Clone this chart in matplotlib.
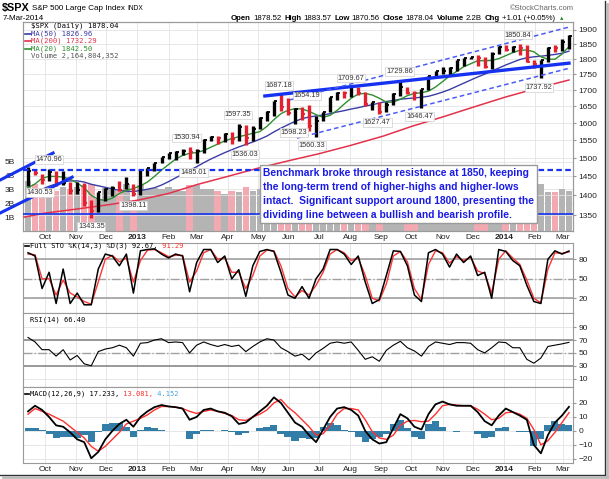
import numpy as np
import pandas as pd
import matplotlib
matplotlib.use("Agg")
import matplotlib.pyplot as plt
from matplotlib.ticker import NullLocator
from matplotlib.lines import Line2D

plt.rcParams['font.family'] = ['Liberation Sans', 'DejaVu Sans']

# ---------------------------------------------------------
# data (weekly samples, Friday dates)
# ---------------------------------------------------------
WEEKS = pd.date_range('2012-09-14', '2014-03-07', freq='W-FRI')

CLOSE = [1465.77, 1460.15, 1440.67, 1460.93, 1428.59, 1433.19, 1411.94, 1414.20, 1379.85, 1359.88,
         1409.15, 1416.18, 1418.07, 1413.58, 1430.15, 1402.43, 1466.47, 1472.05, 1485.98, 1502.96,
         1513.17, 1517.93, 1519.79, 1515.60, 1518.20, 1551.18, 1560.70, 1556.89, 1569.19, 1553.28,
         1588.85, 1555.25, 1582.24, 1614.42, 1633.70, 1667.47, 1649.60, 1630.74, 1643.38, 1626.73,
         1592.43, 1606.28, 1631.89, 1680.19, 1692.09, 1691.65, 1709.67, 1691.42, 1655.83, 1663.50,
         1632.97, 1655.17, 1687.99, 1709.91, 1691.75, 1690.50, 1703.20, 1744.50, 1759.77, 1761.64,
         1770.61, 1798.18, 1804.76, 1805.81, 1805.09, 1775.32, 1818.32, 1841.40, 1831.37, 1842.37,
         1838.70, 1790.29, 1782.59, 1797.02, 1838.63, 1836.25, 1859.45, 1878.04]
HIGH = [1474.5, 1467.1, 1457.1, 1471.0, 1464.0, 1464.0, 1434.0, 1434.3, 1433.4, 1388.8,
        1409.2, 1420.0, 1423.7, 1438.6, 1448.0, 1430.2, 1467.9, 1472.3, 1486.0, 1503.3,
        1514.4, 1518.3, 1524.7, 1530.9, 1525.8, 1552.5, 1563.3, 1563.6, 1570.3, 1573.7,
        1597.4, 1593.0, 1592.6, 1618.5, 1635.0, 1667.5, 1687.2, 1674.2, 1646.5, 1648.7,
        1654.2, 1620.1, 1632.1, 1680.2, 1693.1, 1698.8, 1709.7, 1709.2, 1693.7, 1664.6,
        1663.9, 1664.3, 1690.0, 1729.9, 1711.0, 1696.5, 1704.0, 1745.3, 1759.8, 1775.2,
        1774.5, 1798.2, 1804.8, 1808.4, 1813.6, 1808.4, 1823.8, 1844.9, 1849.4, 1843.2,
        1850.8, 1849.3, 1798.8, 1798.0, 1841.7, 1847.5, 1867.9, 1883.6]
LOW = [1425.5, 1454.0, 1430.5, 1439.0, 1425.5, 1428.0, 1403.3, 1403.9, 1373.0, 1343.4,
       1358.0, 1385.0, 1398.0, 1411.9, 1416.0, 1398.1, 1401.9, 1451.6, 1463.8, 1485.0,
       1496.3, 1495.0, 1508.7, 1497.3, 1485.0, 1514.9, 1547.4, 1538.6, 1546.2, 1539.5,
       1548.0, 1536.0, 1548.0, 1581.3, 1605.4, 1622.4, 1635.5, 1622.7, 1598.2, 1608.1,
       1577.7, 1560.3, 1604.6, 1631.9, 1670.9, 1676.0, 1678.9, 1684.9, 1652.6, 1639.4,
       1627.5, 1633.4, 1655.2, 1683.2, 1687.1, 1670.4, 1646.5, 1700.3, 1739.5, 1752.7,
       1746.2, 1760.6, 1779.0, 1800.0, 1779.1, 1772.3, 1768.0, 1818.2, 1827.7, 1823.7,
       1815.5, 1790.3, 1770.5, 1737.9, 1791.8, 1824.6, 1825.9, 1834.4]
VOLUME_B = [3.6, 3.4, 2.9, 3.0, 2.9, 3.2, 3.0, 3.2, 3.3, 3.4,
            2.3, 3.1, 3.0, 2.9, 3.4, 2.2, 3.3, 3.0, 3.1, 3.0,
            3.2, 3.0, 2.9, 3.3, 3.3, 3.0, 3.0, 2.9, 2.7, 2.9,
            2.8, 3.2, 2.9, 3.0, 2.9, 2.9, 3.2, 3.1, 3.1, 3.0,
            3.4, 3.2, 2.4, 2.7, 2.7, 2.6, 2.7, 2.5, 2.6, 2.3,
            2.4, 2.7, 2.7, 3.0, 2.7, 2.8, 3.0, 2.9, 2.8, 2.9,
            2.9, 2.6, 2.7, 2.1, 2.7, 2.7, 3.0, 1.9, 2.6, 2.8,
            2.9, 3.1, 3.3, 3.4, 2.8, 2.8, 3.0, 2.9]
MA20 = [1420, 1430, 1445, 1450, 1450, 1448, 1443, 1432, 1420, 1400,
        1390, 1387, 1393, 1405, 1413, 1418, 1425, 1435, 1450, 1467,
        1482, 1497, 1507, 1513, 1515, 1521, 1530, 1539, 1548, 1555,
        1560, 1565, 1570, 1575, 1590, 1610, 1628, 1638, 1643, 1642,
        1635, 1625, 1617, 1623, 1638, 1657, 1675, 1688, 1690, 1685,
        1675, 1663, 1663, 1672, 1683, 1690, 1692, 1697, 1710, 1727,
        1745, 1760, 1775, 1785, 1795, 1795, 1796, 1802, 1812, 1822,
        1830, 1831, 1825, 1808, 1800, 1800, 1817, 1842.5]
MA50 = [1405, 1410, 1416, 1424, 1430, 1435, 1438, 1438, 1435, 1429,
        1425, 1421, 1417, 1413, 1411, 1410, 1413, 1416, 1420, 1427,
        1436, 1446, 1456, 1466, 1476, 1487, 1497, 1506, 1515, 1523,
        1531, 1538, 1545, 1553, 1562, 1574, 1585, 1595, 1605, 1613,
        1618, 1621, 1624, 1628, 1633, 1637, 1642, 1646, 1651, 1655,
        1660, 1665, 1668, 1672, 1674, 1676, 1678, 1681, 1687, 1694,
        1702, 1712, 1722, 1732, 1742, 1751, 1761, 1771, 1781, 1790,
        1799, 1805, 1808, 1810, 1813, 1816, 1820, 1826.96]
MA200_DATES = pd.to_datetime(['2012-09-10', '2012-10-01', '2012-11-01', '2012-12-03', '2013-01-02',
                              '2013-02-01', '2013-03-01', '2013-04-01', '2013-05-01', '2013-06-03',
                              '2013-07-01', '2013-08-01', '2013-09-03', '2013-10-01', '2013-11-01',
                              '2013-12-02', '2014-01-02', '2014-02-03', '2014-03-07'])
MA200 = [1345, 1355, 1365, 1376, 1388, 1405, 1428, 1450, 1472, 1494,
         1512, 1535, 1562, 1590, 1618, 1648, 1678, 1706, 1732.29]

STO_K = [90, 85, 35, 60, 12, 65, 12, 28, 10, 10,
         65, 88, 85, 70, 88, 28, 93, 95, 96, 88,
         82, 88, 85, 30, 75, 95, 95, 75, 85, 50,
         64, 23, 70, 92, 95, 92, 60, 25, 20, 38,
         20, 50, 65, 95, 95, 88, 72, 85, 45, 12,
         18, 55, 93, 92, 70, 25, 15, 90, 95, 88,
         68, 88, 75, 85, 55, 60, 20, 95, 92, 78,
         70, 40, 15, 12, 80, 93, 88, 92.67]
STO_D = [88, 87, 50, 50, 25, 48, 28, 22, 15, 11,
         45, 80, 86, 76, 82, 45, 78, 94, 95, 90,
         84, 86, 86, 45, 62, 90, 95, 80, 82, 60,
         60, 35, 55, 85, 94, 93, 70, 35, 22, 32,
         25, 40, 60, 88, 95, 90, 78, 82, 55, 20,
         16, 42, 85, 92, 76, 35, 18, 72, 93, 90,
         74, 84, 78, 83, 62, 58, 28, 80, 93, 82,
         72, 48, 20, 13, 65, 90, 89, 91.29]
RSI = [74, 67, 55, 55, 45, 55, 39, 46, 33, 30,
       52, 56, 58, 62, 58, 45, 65, 66, 70, 72,
       66, 67, 66, 50, 62, 67, 63, 60, 63, 60,
       62, 52, 60, 67, 72, 70, 58, 52, 45, 48,
       39, 50, 57, 65, 67, 65, 67, 54, 40, 44,
       37, 54, 62, 68, 58, 53, 45, 60, 67, 65,
       63, 66, 66, 65, 55, 50, 58, 67, 66, 58,
       58, 40, 34, 42, 60, 62, 64, 66.4]
MACD = [14, 18, 15, 10, 4, 3, -1, -6, -8, -19.5,
        -15, -6, 0, 5, 8, 3, 10, 14, 17, 18.5,
        17.5, 17, 16, 8, 10, 15, 16, 14, 13, 10.5,
        5, 6, 10, 14, 18, 24, 20, 13, 6, 3,
        -3, -8, 1, 10, 16, 17, 15, 11, 0, -6,
        -9, -8, 2, 12, 9, 3, 1, 12, 19, 21,
        19, 18, 18, 18, 13.5, 7, 4, 11, 16, 13.5,
        11, 8, -10, -16, -3, 6, 11, 17.233]
SIGNAL = [12, 16, 14, 12, 9.5, 7, 3, -1, -5, -11,
          -14.5, -11, -6, -1, 5, 7, 9, 11.5, 15, 17.5,
          17.5, 17, 16, 14, 12.5, 14, 15, 14, 12.5, 11,
          8, 7.5, 10, 12, 15, 20, 22.5, 17, 13, 8,
          3, -3, -2, 4, 12, 16, 16, 15, 8, -0.5,
          -5, -6, -3, 4, 7, 7.5, 6.6, 7, 12, 18,
          19, 18.5, 18, 18, 15.5, 12, 8, 9, 13, 13.5,
          12, 9, 1, -10, -7, -1, 6, 13.081]
HIST = [2, 2, 1, -2, -5, -4, -4, -5, -3, -8,
        -1, 5, 6, 6, 3, -4, 1, 2.5, 2, 1,
        0, 0, 0, -6, -2.5, 1, 1, 0, 0.5, -0.5,
        -3, -1.5, 0, 2, 3, 4, -2.5, -4, -7, -5,
        -6, -5, 3, 6, 4, 1, -1, -4, -8, -5.5,
        -4, -2, 5, 8, 2, -4.5, -5.6, 5, 7, 3,
        0, -0.5, 0, 0, -2, -5, -4, 2, 3, 0,
        -1, -1, -11, -6, 4, 7, 5, 4.152]

# swing high / low labels
PEAK_DATES = ['2012-10-05', '2012-09-26', '2012-11-16', '2012-12-28', '2013-02-19', '2013-02-26',
              '2013-04-11', '2013-04-18', '2013-05-22', '2013-06-06', '2013-06-19', '2013-06-24',
              '2013-08-02', '2013-08-28', '2013-09-19', '2013-10-09', '2014-01-15', '2014-02-05']
PEAK_VALUES = [1470.96, 1430.53, 1343.35, 1398.11, 1530.94, 1485.01,
               1597.35, 1536.03, 1687.18, 1598.23, 1654.19, 1560.33,
               1709.67, 1627.47, 1729.86, 1646.47, 1850.84, 1737.92]
PEAK_SIDE = ['up', 'down', 'down', 'down', 'up', 'down',
             'up', 'down', 'up', 'down', 'up', 'down',
             'up', 'down', 'up', 'down', 'up', 'down']

# hand-drawn trend lines (start, end)
CHANNEL_HI_2012 = (['2012-08-17', '2012-10-09'], [1440, 1514])
CHANNEL_LO_2012 = (['2012-08-17', '2012-10-28'], [1355, 1448])
RESIST_LINE = (['2013-05-08', '2014-03-07'], [1682, 1787])
CHANNEL_UP = (['2013-06-02', '2014-03-08'], [1670, 1911])
CHANNEL_DN = (['2013-06-09', '2014-03-08'], [1556, 1771])
BREAKOUT_LEVEL = 1467
FLOOR_LEVEL = 1352

NOTE = ("Benchmark broke through resistance at 1850, keeping\n"
        "the long-term trend of higher-highs and higher-lows\n"
        "intact.  Significant support around 1800, presenting the\n"
        "dividing line between a bullish and bearish profile.")

# ---------------------------------------------------------
# layout (pixel boxes of the 609x479 picture)
# ---------------------------------------------------------
W, H = 609, 479
fig = plt.figure(figsize=(W / 100, H / 100), dpi=100)
renderer = fig.canvas.get_renderer()


def box(l, t, r, b):
    return [l / W, 1 - b / H, (r - l) / W, (b - t) / H]


def fx(px):
    return px / W


def fy(py):
    return 1 - py / H


def chain(x, y, pieces, size, gap=0, **kw):
    # writes text pieces one after the other, left to right
    for s, color, weight in pieces:
        t = fig.text(fx(x), fy(y), s, fontsize=size, color=color, fontweight=weight,
                     va='center', **kw)
        x = t.get_window_extent(renderer).x1 + gap
    return x


ax_v = fig.add_axes(box(23, 22, 573, 231))
ax_p = fig.add_axes(box(23, 22, 573, 231))
ax_s = fig.add_axes(box(23, 243, 573, 313))
ax_r = fig.add_axes(box(23, 313, 573, 387))
ax_m = fig.add_axes(box(23, 387, 573, 463))

X0, X1 = pd.Timestamp('2012-09-09'), pd.Timestamp('2014-03-11')
MONTHS = pd.date_range('2012-10-01', '2014-03-01', freq='MS')
MLABELS = [d.strftime('%Y') if d.month == 1 else d.strftime('%b') for d in MONTHS]
GRID = '#e3e3e3'
TXT = '#222222'

for ax in (ax_v, ax_p, ax_s, ax_r, ax_m):
    ax.set_xlim(X0, X1)
    ax.set_xticks(MONTHS)
    ax.tick_params(axis='x', length=0, labelsize=6, colors=TXT, pad=2)
    ax.tick_params(axis='y', length=2, labelsize=6, colors=TXT, pad=2, color='#999999')
    for s in ax.spines.values():
        s.set_color('#9a9a9a')
        s.set_linewidth(0.8)

for ax in (ax_s, ax_r, ax_v):
    ax.set_xticklabels([])
for ax in (ax_p, ax_m):
    ax.set_xticklabels(MLABELS)
    for lab, d in zip(ax.get_xticklabels(), MONTHS):
        if d.month == 1:
            lab.set_fontweight('bold')

up = np.r_[True, np.diff(CLOSE) >= 0]

# --- volume (behind price) ---
ax_v.bar(WEEKS, VOLUME_B, width=6.5, color=np.where(up, '#b4b4b4', '#f2a9b1'), zorder=1)
ax_v.set_ylim(0, 15.1)
ax_v.set_yticks([1, 2, 3, 4, 5])
ax_v.set_yticklabels(['1B', '2B', '3B', '4B', '5B'])
ax_v.tick_params(axis='y', length=0, pad=6)
ax_v.grid(True, color=GRID, lw=0.6)
ax_v.set_axisbelow(True)

# --- price panel ---
ax_p.patch.set_alpha(0)
ax_p.set_yscale('log')
ax_p.set_ylim(1311, 1928)
pticks = list(range(1350, 1901, 50))
ax_p.set_yticks(pticks)
ax_p.set_yticklabels([str(t) for t in pticks])
ax_p.yaxis.set_minor_locator(NullLocator())
ax_p.yaxis.tick_right()
ax_p.grid(True, axis='y', color=GRID, lw=0.6, zorder=0)

ax_p.plot(MA200_DATES, MA200, color='#e3324c', lw=1.1, zorder=3)
ax_p.plot(WEEKS, MA50, color='#3c3ca8', lw=1.0, zorder=3)
ax_p.plot(WEEKS, MA20, color='#2f8f2f', lw=1.0, zorder=3)

bar_col = np.where(up, 'black', '#e4202e')
ax_p.vlines(WEEKS, LOW, HIGH, colors=bar_col, lw=2.4, zorder=4)
ax_p.hlines(CLOSE, WEEKS, WEEKS + pd.Timedelta(days=3), colors=bar_col, lw=1.3, zorder=4)

blue = '#1432f0'
for (d, v), lw in ((CHANNEL_HI_2012, 2.2), (CHANNEL_LO_2012, 2.2), (RESIST_LINE, 2.4)):
    ax_p.plot(pd.to_datetime(d), v, color=blue, lw=lw, zorder=5, clip_on=False)
for d, v in (CHANNEL_UP, CHANNEL_DN):
    ax_p.plot(pd.to_datetime(d), v, color='#4a5cf5', lw=1.1, ls=(0, (3, 2)), zorder=5)
ax_p.axhline(BREAKOUT_LEVEL, color=blue, lw=1.6, ls=(0, (2.5, 1.5)), zorder=5)
ax_p.axhline(FLOOR_LEVEL, color=blue, lw=1.2, zorder=5)

for d, v, side in zip(PEAK_DATES, PEAK_VALUES, PEAK_SIDE):
    off = 6.5 if side == 'up' else -6.5
    ax_p.annotate(f'{v:.2f}', (pd.Timestamp(d), v), xytext=(0, off), textcoords='offset points',
                  ha='center', va='center', fontsize=5.3, color='#333333', zorder=7,
                  bbox=dict(boxstyle='square,pad=0.12', fc='white', ec='#cfcfcf', lw=0.5))

# --- stochastics ---
ax_s.set_ylim(-2.6, 105)
ax_s.set_yticks([20, 50, 80])
ax_s.yaxis.tick_right()
ax_s.grid(True, color=GRID, lw=0.6)
ax_s.set_axisbelow(True)
for lvl in (20, 80):
    ax_s.axhline(lvl, color='#9a9a9a', lw=1.1)
ax_s.axhline(50, color='#a0a0a0', lw=1.0, ls='-.')
ax_s.plot(WEEKS, STO_D, color='#ff3535', lw=1.0)
ax_s.plot(WEEKS, STO_K, color='black', lw=1.1)

# --- RSI ---
ax_r.set_ylim(-3, 112)
ax_r.set_yticks([10, 30, 50, 70, 90])
ax_r.yaxis.tick_right()
ax_r.grid(True, color=GRID, lw=0.6)
ax_r.set_axisbelow(True)
for lvl in (30, 70):
    ax_r.axhline(lvl, color='#8a8a8a', lw=1.2)
ax_r.axhline(50, color='#a0a0a0', lw=1.0, ls='-.')
ax_r.plot(WEEKS, RSI, color='black', lw=0.8)

# --- MACD ---
ax_m.set_ylim(-22.9, 31.4)
ax_m.set_yticks([-20, -10, 0, 10, 20])
ax_m.yaxis.tick_right()
ax_m.grid(True, color=GRID, lw=0.6)
ax_m.set_axisbelow(True)
ax_m.bar(WEEKS, HIST, width=7, color='#337ea8', zorder=2)
ax_m.plot(WEEKS, SIGNAL, color='#ff3030', lw=1.0, zorder=3)
ax_m.plot(WEEKS, MACD, color='black', lw=1.3, zorder=4)

# ---------------------------------------------------------
# texts
# ---------------------------------------------------------
x = chain(2, 8, [('$SPX', 'black', 'bold')], 7.8, gap=2)
x = chain(x, 8.5, [('S&P 500 Large Cap Index', 'black', 'normal')], 5.8, gap=3)
chain(x, 8.5, [('INDX', 'black', 'normal')], 4.8)
fig.text(fx(3), fy(18.5), '7-Mar-2014', fontsize=5.8, va='center')
fig.text(fx(574), fy(8), '\u00a9StockCharts.com', fontsize=5.5, color='#666666', ha='right', va='center')

hdr = [('Open', 'bold'), ('1878.52', 'normal'), ('High', 'bold'), ('1883.57', 'normal'),
       ('Low', 'bold'), ('1870.56', 'normal'), ('Close', 'bold'), ('1878.04', 'normal'),
       ('Volume', 'bold'), ('2.2B', 'normal'), ('Chg', 'bold'), ('+1.01 (+0.05%)', 'normal')]
x = 231
for s, wt in hdr:
    x = chain(x, 18.5, [(s, 'black', wt)], 5.6, gap=3 if wt == 'normal' else 2)
fig.text(fx(x + 1), fy(19), '\u25b2', fontsize=4, color='#2a8a2a', va='center')

mono = 'DejaVu Sans Mono'
legend = [('$SPX (Daily) 1878.04', 'black'), ('MA(50) 1826.96', '#3c3ca8'),
          ('MA(200) 1732.29', '#e3324c'), ('MA(20) 1842.50', '#2f8f2f'),
          ('Volume 2,164,804,352', '#555555')]
for i, (s, c) in enumerate(legend):
    y = 26 + i * 7.6
    fig.text(fx(31), fy(y), s, fontsize=5.2, family=mono, color=c, va='center')
    if 1 <= i <= 3:
        fig.add_artist(Line2D([fx(25), fx(30.5)], [fy(y), fy(y)], color=c, lw=1.2))

chain(30, 246, [('Full STO %K(14,3) %D(3) 92.67,', 'black', 'normal'),
                (' 91.29', '#ff3030', 'normal')], 5.0, family=mono)
fig.add_artist(Line2D([fx(25), fx(29)], [fy(246), fy(246)], color='black', lw=1.2))
fig.text(fx(30), fy(320), 'RSI(14) 66.40', fontsize=5.0, family=mono, va='center')
chain(30, 394, [('MACD(12,26,9) 17.233,', 'black', 'normal'),
                (' 13.081,', '#ff3030', 'normal'),
                (' 4.152', '#4aa3df', 'normal')], 5.0, family=mono)
fig.add_artist(Line2D([fx(25), fx(29)], [fy(394), fy(394)], color='black', lw=1.2))

fig.text(fx(263), fy(194), NOTE, fontsize=7.4, fontweight='bold', color='#1a1ae6',
         ha='left', va='center', linespacing=1.5, zorder=10,
         bbox=dict(boxstyle='square,pad=0.3', fc='white', ec='#9a9a9a', lw=1))

# frame with shadow
fig.add_artist(Line2D([fx(605), fx(605)], [fy(1), fy(475)], color='#333333', lw=1))
fig.add_artist(Line2D([fx(0), fx(605)], [fy(475), fy(475)], color='#333333', lw=1))
fig.add_artist(Line2D([fx(607), fx(607)], [fy(4), fy(477)], color='#bbbbbb', lw=2))
fig.add_artist(Line2D([fx(3), fx(607)], [fy(477), fy(477)], color='#bbbbbb', lw=2))

fig.savefig('out.png', dpi=100)
